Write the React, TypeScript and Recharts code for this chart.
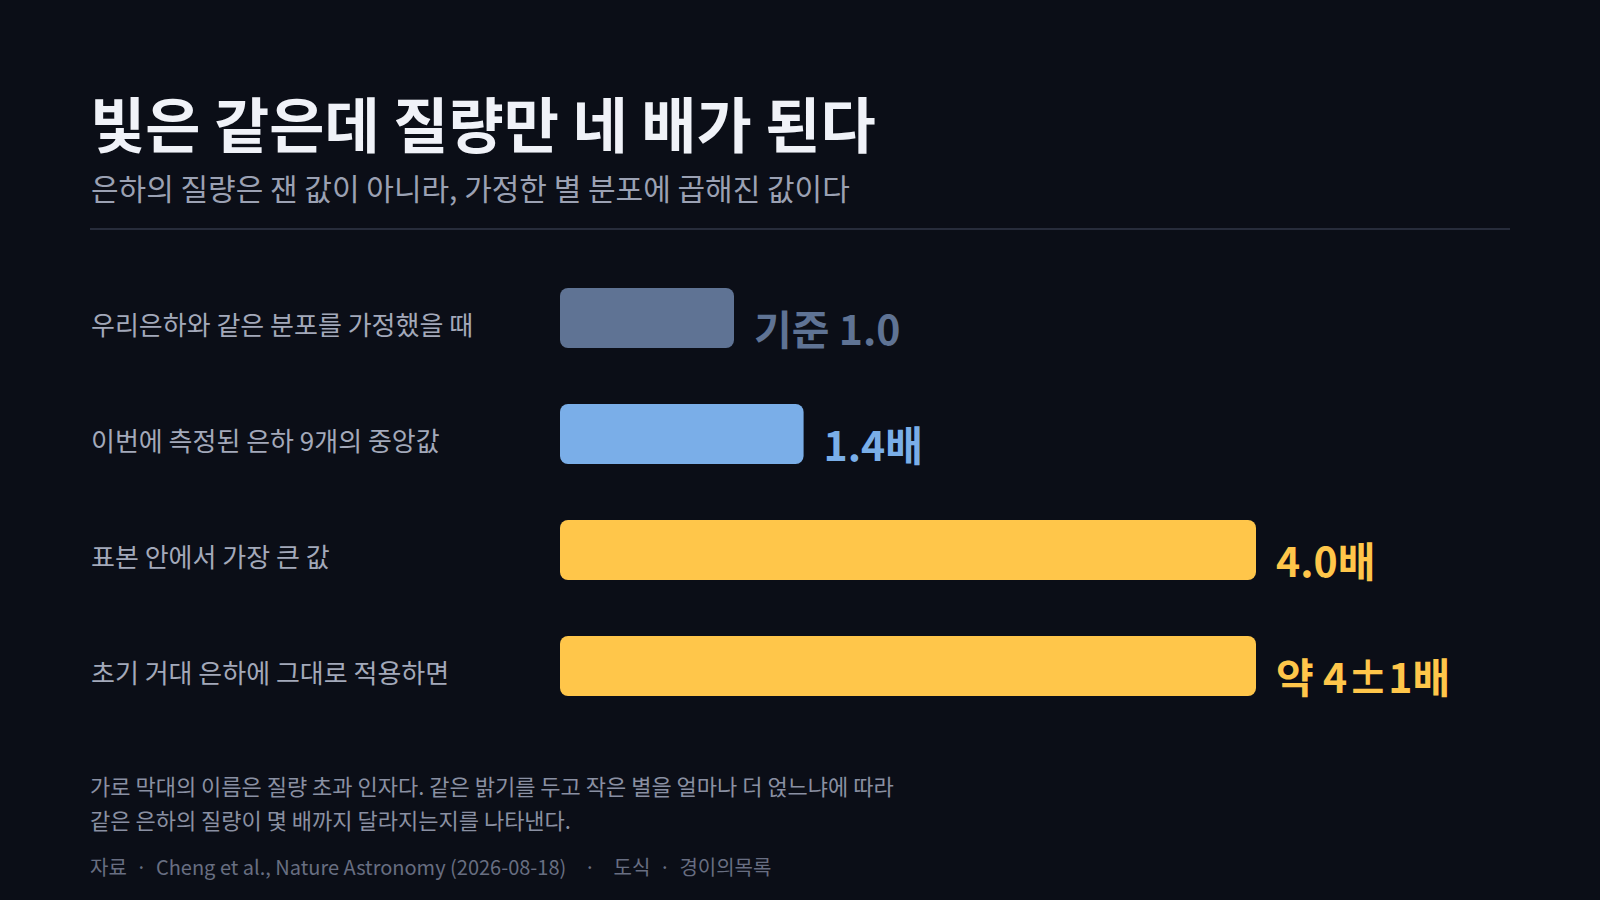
import { BarChart, Bar, XAxis, YAxis, Cell, LabelList } from 'recharts';

const categories = [
  '우리은하와 같은 분포를 가정했을 때',
  '이번에 측정된 은하 9개의 중앙값',
  '표본 안에서 가장 큰 값',
  '초기 거대 은하에 그대로 적용하면',
];
const factors = [1.0, 1.4, 4.0, 4.0];
const valueLabels = ['기준 1.0', '1.4배', '4.0배', '약 4±1배'];
const barColors = ['#5f7394', '#7aaee8', '#ffc64a', '#ffc64a'];

const FONT = "'Noto Sans CJK KR', 'Noto Sans', sans-serif";
const BG = '#0b0e17';

const data = categories.map((name, i) => ({ name, factor: factors[i] }));

function CategoryTick({ y, payload }: any) {
  return (
    <text x={91} y={y} dy={5} fill="#a3a9ba" fontSize={26} fontFamily={FONT} dominantBaseline="central">
      {payload.value}
    </text>
  );
}

function ValueLabel(props: any) {
  const { x, y, width, height, index } = props;
  return (
    <text
      x={x + width + 20}
      y={y + height - 3}
      fill={barColors[index]}
      fontSize={41}
      fontWeight={700}
      fontFamily={FONT}
    >
      {valueLabels[index]}
    </text>
  );
}

export default function App() {
  return (
    <div style={{ position: 'absolute', left: 0, top: 0, width: 1600, height: 900, background: BG, fontFamily: FONT, overflow: 'hidden' }}>
      <div style={{ position: 'absolute', left: 90, top: 82, fontSize: 60, fontWeight: 700, color: '#f0f2f8', lineHeight: '80px', whiteSpace: 'nowrap' }}>
        빛은 같은데 질량만 네 배가 된다
      </div>
      <div style={{ position: 'absolute', left: 91, top: 167, fontSize: 30, color: '#9ba1b3', lineHeight: '40px', whiteSpace: 'nowrap' }}>
        은하의 질량은 잰 값이 아니라, 가정한 별 분포에 곱해진 값이다
      </div>
      <div style={{ position: 'absolute', left: 90, top: 228, width: 1420, height: 2, background: '#272c3b' }} />

      <div style={{ position: 'absolute', left: 0, top: 0 }}>
        <BarChart
          width={1600}
          height={900}
          data={data}
          layout="vertical"
          margin={{ top: 260, right: 170, bottom: 176, left: 0 }}
        >
          <XAxis type="number" domain={[0, 5]} hide />
          <YAxis
            type="category"
            dataKey="name"
            width={560}
            axisLine={false}
            tickLine={false}
            tick={<CategoryTick />}
          />
          <Bar dataKey="factor" barSize={60} radius={8} isAnimationActive={false}>
            {data.map((d, i) => (
              <Cell key={d.name} fill={barColors[i]} />
            ))}
            <LabelList dataKey="factor" content={<ValueLabel />} />
          </Bar>
        </BarChart>
      </div>

      <div style={{ position: 'absolute', left: 90, top: 768, fontSize: 22, color: '#8a90a2', lineHeight: '34px', whiteSpace: 'nowrap' }}>
        <div>가로 막대의 이름은 질량 초과 인자다. 같은 밝기를 두고 작은 별을 얼마나 더 얹느냐에 따라</div>
        <div>같은 은하의 질량이 몇 배까지 달라지는지를 나타낸다.</div>
      </div>
      <div style={{ position: 'absolute', left: 90, top: 852, fontSize: 20, color: '#686e82', lineHeight: '30px', whiteSpace: 'nowrap' }}>
        <span>자료 &nbsp;·&nbsp; Cheng et al., Nature Astronomy (2026-08-18)</span>
        <span style={{ margin: '0 18px' }}>·</span>
        <span>도식 &nbsp;·&nbsp; 경이의목록</span>
      </div>
    </div>
  );
}
